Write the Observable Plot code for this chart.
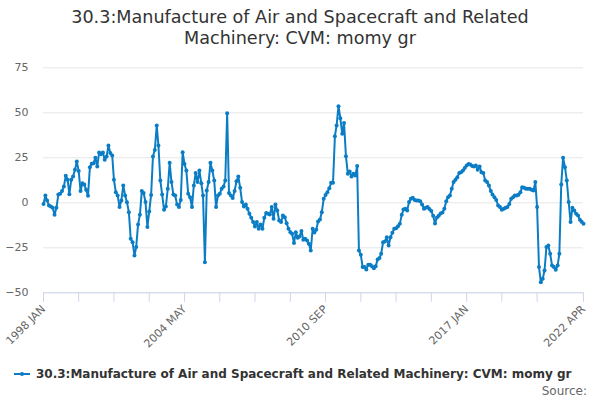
<!DOCTYPE html>
<html>
<head>
<meta charset="utf-8">
<script src="https://cdn.jsdelivr.net/npm/d3@7"></script>
<script src="https://cdn.jsdelivr.net/npm/@observablehq/plot@0.6"></script>
<style>
  body { margin: 0; background: #fff; }
  #wrap { position: relative; width: 600px; height: 400px; overflow: hidden; font-family: "DejaVu Sans", sans-serif; }
  #title { position: absolute; top: 7px; left: 0; width: 600px; text-align: center; font-size: 17.6px; line-height: 21px; color: #333333; }
  #legend { position: absolute; top: 368px; left: 14px; font-size: 12px; line-height: 12px; font-weight: bold; color: #333333; white-space: nowrap; }
  #legend svg { position: absolute; left: 0; top: 0; }
  #legend span { position: absolute; left: 22px; top: 0; }
  #source { position: absolute; top: 385px; right: 13px; font-size: 12px; line-height: 12px; color: #666666; }
  #chart { position: absolute; left: 0; top: 0; }
</style>
</head>
<body>
<div id="wrap">
  <div id="chart"></div>
  <div id="title"><span id="t1"></span><br><span id="t2"></span></div>
  <div id="legend"><svg width="17" height="12"><line x1="0" x2="16" y1="6" y2="6" stroke="#0b7dc5" stroke-width="2"></line><circle cx="8" cy="6" r="2" fill="#0b7dc5"></circle></svg><span id="legtext"></span></div>
  <div id="source"></div>
</div>
<script>
const titleLines = ["30.3:Manufacture of Air and Spacecraft and Related", "Machinery: CVM: momy gr"];
const seriesName = "30.3:Manufacture of Air and Spacecraft and Related Machinery: CVM: momy gr";
const sourceText = "Source:";
const startYear = 1998;
const startMonth = 0;
const monthNames = ["JAN","FEB","MAR","APR","MAY","JUN","JUL","AUG","SEP","OCT","NOV","DEC"];
const tickLabels = ["1998 JAN", "2004 MAY", "2010 SEP", "2017 JAN", "2022 APR"];
const tickStepMonths = 19;
const yTicks = [-50, -25, 0, 25, 50, 75];
const values = [
  -0.6, 4.0, 1.3, -1.5, -2, -2.8, -6.7, -2.8, 4.6, 5,
  6.5, 9, 15, 12.8, 4.8, 12.8, 14.6, 18.3, 23, 17.6,
  6.5, 10.9, 10.2, 7.2, 3.9, 19.8, 21.7, 22, 25, 20.2,
  28, 27, 28, 23.9, 25.7, 31.8, 27.6, 26.3, 12.8, 5.9,
  4.1, -2.4, 1.3, 9.6, 4.1, 0.3, -5.2, -20, -21.9, -29.3,
  -24.6, -12, -6.7, 6.5, 5.4, 0.4, -13.5, -4.8, 4.4, 25.7,
  29.4, 42.9, 31.8, 12.4, 4.6, -3.9, -2, 7.8, 22.2, 11.5,
  4.6, 4.0, -0.9, -2.4, 1.6, 28.1, 21.6, 17.9, 5, 3.1,
  -2.4, 9.6, 16.5, 11.5, 17.9, 10.9, 4.0, -33, 6.8, 11.5,
  22.2, 17.9, 12.4, -2.4, 4.0,
  5, 7.8, 9, 12.4, 49.8, 5.4, 4.0, 2.6, 6.5, 12,
  14.6, 8.3, 0.4, -2, -0.9, -3.3, -6.1, -8.3, -10.7, -13.1,
  -10.7, -14.4, -12, -14.4, -8.3, -5.7, -6.1, -6.5, -2.4, -8.9,
  -0.9, -4.3, -9.8, -10.7, -7, -8, -11.3, -14.4, -16.3, -17.2,
  -22.4, -16.3, -19.4, -18.7, -15.7, -20.5, -20, -20.9, -22.8, -26.5,
  -14.4, -16.5, -15, -10.4, -9.3, -5.2, 2.2, 4.4, 5.9, 8.1,
  11.1, 11.1, 37, 43, 53.7, 47, 38.3, 44.4, 25.9, 16.1,
  17.4, 14.6, 16.1, 15.2, 20.4, -26.5, -28.9, -35.7, -35.7, -37,
  -34.4, -34.4, -35.2, -36.3, -35.2, -31.5, -30.7, -28.3, -21.9, -21.5,
  -19.1, -23.7, -19.1, -16.7, -14.4, -14.1, -13, -11.7, -6.7, -3.7,
  -3.3, -4.3, 0.5, 2.2, 2.8, 1.6, 1.3, 1.3, 0.9, -0.9,
  -3.3, -2.8, -2.4, -3.5, -4.6, -7.2, -11.5, -8.1, -7.2, -5.9,
  -5.4, -3.3, 0.9, 3.1, 4.0, 7.8, 11.5, 12.8, 14.2, 16.5,
  17, 17.9, 19.4, 20.7, 21.6, 21.3, 20.5, 20.2, 20.7, 18.3,
  20.2, 17, 16.5, 12.4, 11.5, 9.6, 6.5, 4.6,
  3.1, 1.6, -1.5, -2.4, -3.9, -3.3, -2.8, -2.4, -0.6, 2.2,
  3.1, 4.0, 4.0, 4.5, 5.9, 8.7, 8.3, 7.8, 7.8, 7.8,
  7.2, 6.8, 11.5, -2.4, -35.7, -44.1, -42.2, -37.6, -24.6, -23.7,
  -28.3, -34.8, -35.7, -37.2, -34.8, -28.3, 10.2, 25, 19.8, 12.4,
  0.4, -10.7, -2.8, -4.3, -6.1, -7, -9.4, -10.5, -11.7
];

const lineColor = "#0b7dc5";

document.getElementById("t1").textContent = titleLines[0];
document.getElementById("t2").textContent = titleLines[1];
document.getElementById("legtext").textContent = seriesName;
document.getElementById("source").textContent = sourceText;

const monthDate = i => new Date(Date.UTC(startYear, startMonth + i, 1));
const data = values.map((v, i) => ({date: monthDate(i), value: v}));
const lastIndex = values.length - 1;

function labelToIndex(s) {
  const [y, m] = s.split(" ");
  return (+y - startYear) * 12 + monthNames.indexOf(m) - startMonth;
}
const labeled = new Map(tickLabels.map(s => [+monthDate(labelToIndex(s)), s]));
const tickIdx = d3.range(0, lastIndex - tickStepMonths / 2, tickStepMonths).concat([lastIndex]);
const tickDates = tickIdx.map(monthDate);

const chart = Plot.plot({
  width: 600,
  height: 400,
  marginTop: 67.3,
  marginBottom: 107.7,
  marginLeft: 43,
  marginRight: 17,
  style: {fontFamily: "DejaVu Sans, sans-serif", fontSize: "11px", color: "#666666", background: "transparent"},
  x: {type: "utc", domain: [monthDate(0), monthDate(lastIndex)]},
  y: {domain: [-50, 75]},
  marks: [
    Plot.gridY(yTicks, {stroke: "#e6e6e6", strokeOpacity: 1, strokeWidth: 1}),
    Plot.axisY(yTicks, {tickSize: 0, tickPadding: 15, fill: "#666666", label: null, fontSize: 11}),
    Plot.ruleY([-50], {stroke: "#ccd6eb", strokeWidth: 1}),
    Plot.axisX(tickDates, {
      tickSize: 9.5, tickPadding: 5, stroke: "#ccd6eb", strokeOpacity: 1, fill: "#666666",
      tickRotate: -45, label: null, fontSize: 11,
      tickFormat: d => labeled.get(+d) ?? ""
    }),
    Plot.line(data, {x: "date", y: "value", stroke: lineColor, strokeWidth: 2}),
    Plot.dot(data, {x: "date", y: "value", r: 2, fill: lineColor, stroke: "none"})
  ]
});
document.getElementById("chart").appendChild(chart);
</script>
</body>
</html>
